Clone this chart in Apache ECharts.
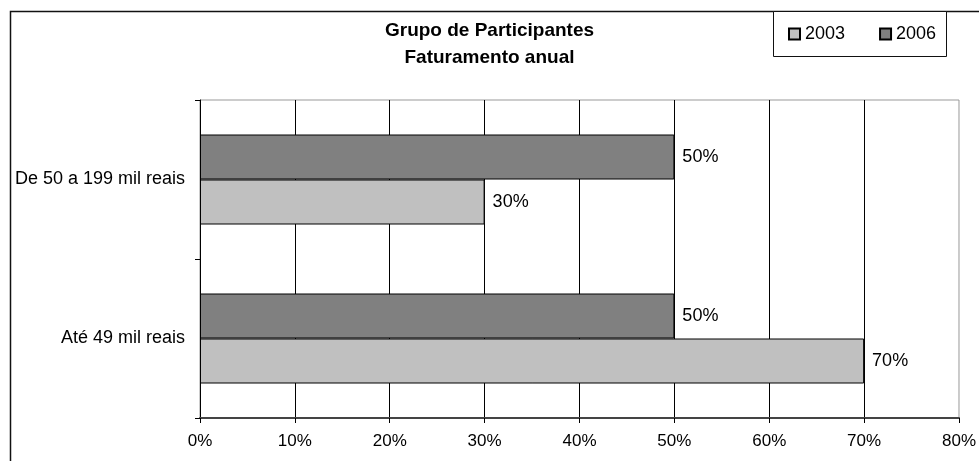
<!DOCTYPE html>
<html><head><meta charset="utf-8">
<script src="https://cdn.jsdelivr.net/npm/echarts@6/dist/echarts.min.js"></script>
<style>html,body{margin:0;padding:0;background:#fff}#c{width:979px;height:461px}</style>
</head><body><div id="c"></div>
<script>
var categories = ['Até 49 mil reais', 'De 50 a 199 mil reais'];
var values2003 = [70, 30];
var values2006 = [50, 50];
var xTicks = [0, 10, 20, 30, 40, 50, 60, 70, 80];
var titleText = 'Grupo de Participantes\nFaturamento anual';

var FONT = '"Liberation Sans", Arial, sans-serif';
var chart = echarts.init(document.getElementById('c'), null, {renderer: 'canvas'});
chart.setOption({
  animation: false,
  backgroundColor: '#fff',
  graphic: [
    {type: 'rect', z: -10, shape: {x: 10.5, y: 11.5, width: 1100, height: 600},
     style: {fill: '#fff', stroke: '#111', lineWidth: 1.5}},
    {type: 'rect', z: 1, shape: {x: 773.5, y: 11.5, width: 173, height: 45},
     style: {fill: '#fff', stroke: '#111', lineWidth: 1}}
  ],
  title: {
    text: titleText,
    left: 'center', top: 17, padding: [0, 19, 0, 5],
    textStyle: {fontFamily: FONT, fontWeight: 'bold', fontSize: 19, lineHeight: 27, color: '#000'}
  },
  legend: {
    data: ['2003', '2006'],
    left: 788, top: 25, z: 5, padding: 0,
    icon: 'rect', itemWidth: 11, itemHeight: 11, itemGap: 34,
    textStyle: {fontFamily: FONT, fontSize: 18, color: '#000'}
  },
  grid: {left: 200, right: 20, top: 100, bottom: 43, show: true, borderColor: '#999', borderWidth: 1},
  xAxis: {
    type: 'value', min: xTicks[0], max: xTicks[xTicks.length - 1], interval: 10,
    axisLine: {show: true, lineStyle: {color: '#444', width: 2}},
    axisTick: {show: true, length: 5, lineStyle: {color: '#000'}},
    axisLabel: {formatter: '{value}%', fontFamily: FONT, fontSize: 17, color: '#000', margin: 15},
    splitLine: {show: true, showMaxLine: false, lineStyle: {color: '#000', width: 1}}
  },
  yAxis: {
    type: 'category', data: categories,
    axisLine: {show: true, lineStyle: {color: '#000', width: 1}},
    axisTick: {show: true, length: 5, lineStyle: {color: '#000'}},
    axisLabel: {fontFamily: FONT, fontSize: 18, color: '#000', margin: 15}
  },
  series: [
    {name: '2006', type: 'bar', data: values2006, barWidth: 45, barGap: '0%',
     itemStyle: {color: '#808080', borderColor: '#000', borderWidth: 1},
     label: {show: true, position: 'right', distance: 8, formatter: '{c}%', fontFamily: FONT, fontSize: 18, color: '#000'}},
    {name: '2003', type: 'bar', data: values2003, barWidth: 45, barGap: '0%',
     itemStyle: {color: '#C0C0C0', borderColor: '#000', borderWidth: 1},
     label: {show: true, position: 'right', distance: 8, formatter: '{c}%', fontFamily: FONT, fontSize: 18, color: '#000'}}
  ]
});
</script></body></html>
